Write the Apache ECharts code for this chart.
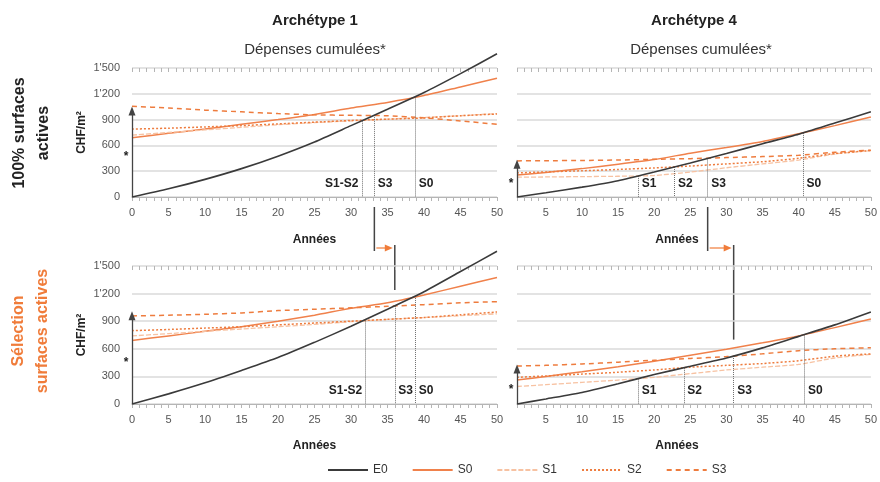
<!DOCTYPE html>
<html><head><meta charset="utf-8">
<script src="https://cdn.jsdelivr.net/npm/echarts@6/dist/echarts.min.js"></script>
<style>html,body{margin:0;padding:0;background:#fff}#c{width:880px;height:482px}</style>
</head><body><div id="c"></div>
<script>
const FONT = "'Liberation Sans', Arial, sans-serif";

// ---------- data ----------
const seriesNames = ['E0', 'S0', 'S1', 'S2', 'S3'];
const yearsLeft  = [0, 5, 10, 15, 20, 25, 30, 35, 40, 45, 50];
const yearsRight = [1, 5, 10, 15, 20, 25, 30, 35, 40, 45, 50];
const xLabelsLeft  = [0, 5, 10, 15, 20, 25, 30, 35, 40, 45, 50];
const xLabelsRight = [5, 10, 15, 20, 25, 30, 35, 40, 45, 50];

// Archétype 1 – 100% surfaces actives
const a1FullE0 = [0, 95, 205, 330, 475, 640, 830, 1020, 1215, 1435, 1665];
const a1FullS0 = [690, 740, 790, 845, 900, 960, 1035, 1100, 1180, 1280, 1380];
const a1FullS1 = [720, 750, 780, 810, 840, 865, 885, 905, 925, 945, 970];
const a1FullS2 = [790, 800, 815, 830, 850, 870, 890, 905, 920, 945, 965];
const a1FullS3 = [1055, 1035, 1010, 990, 970, 955, 950, 945, 920, 885, 845];
const a1FullPayNames = ['S1-S2', 'S3', 'S0'];
const a1FullPayYears = [31.5, 33.2, 38.8];
const a1FullArrowTop = 1000;

// Archétype 4 – 100% surfaces actives
const a4FullE0 = [0, 50, 115, 190, 290, 395, 505, 620, 730, 860, 990];
const a4FullS0 = [255, 285, 330, 380, 435, 510, 575, 645, 735, 830, 930];
const a4FullS1 = [230, 233, 237, 241, 250, 290, 340, 385, 430, 500, 540];
const a4FullS2 = [280, 292, 305, 320, 338, 360, 385, 410, 450, 505, 540];
const a4FullS3 = [420, 422, 425, 430, 438, 446, 458, 470, 485, 520, 545];
const a4FullPayNames = ['S1', 'S2', 'S3', 'S0'];
const a4FullPayYears = [17.8, 22.8, 27.4, 40.6];
const a4FullArrowTop = 380;

// Archétype 1 – Sélection surfaces actives
const a1SelE0 = [0, 110, 230, 365, 505, 670, 845, 1030, 1220, 1440, 1660];
const a1SelS0 = [690, 740, 790, 840, 900, 965, 1040, 1100, 1185, 1280, 1375];
const a1SelS1 = [740, 765, 790, 815, 840, 865, 895, 920, 940, 960, 980];
const a1SelS2 = [797, 810, 825, 840, 860, 880, 900, 920, 940, 970, 1000];
const a1SelS3 = [957, 965, 975, 990, 1015, 1030, 1045, 1062, 1080, 1100, 1112];
const a1SelPayNames = ['S1-S2', 'S3', 'S0'];
const a1SelPayYears = [32, 36, 38.8];
const a1SelArrowTop = 960;

// Archétype 4 – Sélection surfaces actives
const a4SelE0 = [0, 55, 125, 220, 320, 410, 500, 610, 735, 860, 1000];
const a4SelS0 = [260, 300, 350, 405, 465, 530, 595, 665, 740, 830, 924];
const a4SelS1 = [190, 210, 235, 260, 290, 330, 370, 400, 430, 500, 540];
const a4SelS2 = [290, 305, 325, 345, 370, 400, 420, 440, 470, 520, 545];
const a4SelS3 = [413, 420, 435, 455, 475, 495, 515, 545, 580, 600, 612];
const a4SelPayNames = ['S1', 'S2', 'S3', 'S0'];
const a4SelPayYears = [17.8, 24.1, 31, 40.8];
const a4SelArrowTop = 380;

// end value of the "shift" marker bar in the lower panels
const shiftBarEnd = [1240, 700];

// ---------- build ----------
const panels = [
  {years: yearsLeft,  vals: [a1FullE0, a1FullS0, a1FullS1, a1FullS2, a1FullS3], payNames: a1FullPayNames, payYears: a1FullPayYears, arrowTop: a1FullArrowTop, left: true},
  {years: yearsRight, vals: [a4FullE0, a4FullS0, a4FullS1, a4FullS2, a4FullS3], payNames: a4FullPayNames, payYears: a4FullPayYears, arrowTop: a4FullArrowTop, left: false},
  {years: yearsLeft,  vals: [a1SelE0, a1SelS0, a1SelS1, a1SelS2, a1SelS3], payNames: a1SelPayNames, payYears: a1SelPayYears, arrowTop: a1SelArrowTop, left: true},
  {years: yearsRight, vals: [a4SelE0, a4SelS0, a4SelS1, a4SelS2, a4SelS3], payNames: a4SelPayNames, payYears: a4SelPayYears, arrowTop: a4SelArrowTop, left: false}
];
const gridBoxes = [
  {left: 132, top: 68, width: 365, height: 129},
  {left: 517, top: 68, width: 356, height: 129},
  {left: 132, top: 266, width: 365, height: 138},
  {left: 517, top: 266, width: 356, height: 138}
];
const styles = {
  E0: {color: '#3a3a3a', width: 1.6, type: 'solid'},
  S0: {color: '#f0814b', width: 1.5, type: 'solid'},
  S1: {color: '#f7c2a2', width: 1.3, type: [5, 2]},
  S2: {color: '#ee7c3e', width: 1.5, type: [2, 2]},
  S3: {color: '#ee7c3e', width: 1.5, type: [5, 4]}
};

function interp(xs, ys, x) {
  for (let i = 0; i < xs.length - 1; i++) {
    if (x >= xs[i] && x <= xs[i + 1]) {
      return ys[i] + (ys[i + 1] - ys[i]) * (x - xs[i]) / (xs[i + 1] - xs[i]);
    }
  }
  return ys[ys.length - 1];
}
function fmtY(v) {
  return v >= 1000 ? Math.floor(v / 1000) + "'" + String(v % 1000).padStart(3, '0') : String(v);
}
const range = (a, b) => { const r = []; for (let i = a; i <= b; i++) r.push(i); return r; };

const xAxes = [], yAxes = [], series = [];
panels.forEach((p, g) => {
  const xmin = p.years[0];
  const common = {
    type: 'value', gridIndex: g, min: xmin, max: 50,
    splitLine: {show: false}
  };
  xAxes.push(Object.assign({}, common, {
    axisLine: {show: true, lineStyle: {color: '#b5b5b5', width: 1}},
    axisTick: {show: true, customValues: range(xmin, 50), length: 4, lineStyle: {color: '#b5b5b5'}},
    axisLabel: {customValues: p.left ? xLabelsLeft : xLabelsRight, fontSize: 11, color: '#555', fontFamily: FONT, margin: 10},
    name: 'Années', nameLocation: 'middle', nameGap: g < 2 ? 37 : 36,
    nameTextStyle: {fontSize: 12, fontWeight: 'bold', color: '#222', fontFamily: FONT, padding: p.left ? [0, 0, 0, 0] : [0, 34, 0, 0]}
  }));
  xAxes.push(Object.assign({}, common, {
    axisLine: {show: false},
    axisTick: {show: true, inside: true, customValues: range(xmin, 50), length: 4, lineStyle: {color: '#b5b5b5'}},
    axisLabel: {show: false}
  }));
  yAxes.push({
    type: 'value', gridIndex: g, min: 0, max: 1500, interval: 300,
    axisLine: {show: false}, axisTick: {show: false},
    axisLabel: {show: p.left, formatter: fmtY, fontSize: 11, color: '#555', fontFamily: FONT, margin: 12},
    splitLine: {show: true, lineStyle: {color: '#dadada', width: 1.5}},
    name: p.left ? 'CHF/m²' : '', nameLocation: 'middle', nameGap: 44, nameRotate: 90,
    nameTextStyle: {fontSize: 12, fontWeight: 'bold', color: '#222', fontFamily: FONT}
  });
  seriesNames.forEach((name, k) => {
    const st = styles[name];
    const s = {
      type: 'line', name, xAxisIndex: g * 2, yAxisIndex: g,
      data: p.years.map((y, i) => [y, p.vals[k][i]]),
      symbol: 'none', smooth: 0.2, animation: false, clip: false,
      lineStyle: {color: st.color, width: st.width, type: st.type},
      itemStyle: {color: st.color},
      emphasis: {disabled: true},
      z: name === 'E0' ? 5 : 3
    };
    if (name === 'E0') {
      const dotted = {type: 'dotted', color: '#6f6f6f', width: 1};
      const arrowLS = {type: 'solid', color: '#444', width: 1.3};
      s.markLine = {
        silent: true, animation: false, symbol: ['none', 'none'],
        label: {show: false}, emphasis: {disabled: true},
        data: p.payYears.map(yr => [
          {coord: [yr, interp(p.years, p.vals[0], yr)], lineStyle: dotted},
          {coord: [yr, 0], lineStyle: dotted}
        ]).concat([[
          {coord: [xmin, 0], lineStyle: arrowLS, symbol: 'none'},
          {coord: [xmin, p.arrowTop], lineStyle: arrowLS, symbol: 'triangle', symbolSize: [7, 9]}
        ]])
      };
      s.markPoint = {
        silent: true, animation: false, symbol: 'rect', symbolSize: 1,
        itemStyle: {color: 'rgba(0,0,0,0)'},
        data: p.payNames.map((n, i) => ({
          coord: [p.payYears[i], 0], value: n,
          label: {show: true, formatter: n, position: n.indexOf('-') >= 0 ? 'left' : 'right', distance: 3,
                  offset: [0, -13], fontSize: 12, fontWeight: 'bold', color: '#222', fontFamily: FONT}
        })).concat([{
          coord: [xmin, p.arrowTop / 2], value: '*',
          label: {show: true, formatter: '*', position: 'left', distance: 3, offset: [0, 3],
                  fontSize: 12, fontWeight: 'bold', color: '#222', fontFamily: FONT}
        }])
      };
    }
    series.push(s);
  });
});

const texts = [
  {type: 'text', x: 315, y: 21, style: {text: 'Archétype 1', fontSize: 15, fontWeight: 'bold', fontFamily: FONT, fill: '#222', align: 'center', verticalAlign: 'middle'}},
  {type: 'text', x: 694, y: 21, style: {text: 'Archétype 4', fontSize: 15, fontWeight: 'bold', fontFamily: FONT, fill: '#222', align: 'center', verticalAlign: 'middle'}},
  {type: 'text', x: 315, y: 50, style: {text: 'Dépenses cumulées*', fontSize: 15, fontFamily: FONT, fill: '#333', align: 'center', verticalAlign: 'middle'}},
  {type: 'text', x: 701, y: 50, style: {text: 'Dépenses cumulées*', fontSize: 15, fontFamily: FONT, fill: '#333', align: 'center', verticalAlign: 'middle'}},
  {type: 'text', x: 32, y: 133, rotation: Math.PI / 2, style: {text: '100% surfaces\nactives', fontSize: 16, fontWeight: 'bold', fontFamily: FONT, fill: '#222', align: 'center', verticalAlign: 'middle', lineHeight: 24}},
  {type: 'text', x: 31, y: 331, rotation: Math.PI / 2, style: {text: 'Sélection\nsurfaces actives', fontSize: 16, fontWeight: 'bold', fontFamily: FONT, fill: '#f07c3a', align: 'center', verticalAlign: 'middle', lineHeight: 24}}
];

const chart = echarts.init(document.getElementById('c'), null, {renderer: 'canvas'});
const option = {
  animation: false,
  backgroundColor: '#fff',
  grid: gridBoxes.map(b => Object.assign({containLabel: false}, b)),
  xAxis: xAxes,
  yAxis: yAxes,
  legend: {
    data: seriesNames, left: 322, top: 459, itemWidth: 40, itemHeight: 10, itemGap: 24,
    itemStyle: {opacity: 0},
    textStyle: {fontSize: 12, color: '#333', fontFamily: FONT}, selectedMode: false
  },
  graphic: texts,
  series
};
chart.setOption(option);

// shift annotation (S3 payback moving from upper to lower panel)
const annots = [];
[0, 1].forEach(c => {
  const top = panels[c], bot = panels[c + 2];
  const yrTop = top.payYears[top.payNames.indexOf('S3')];
  const yrBot = bot.payYears[bot.payNames.indexOf('S3')];
  const a = chart.convertToPixel({xAxisIndex: 2 * c, yAxisIndex: c}, [yrTop, 0]);
  const b = chart.convertToPixel({xAxisIndex: 2 * (c + 2), yAxisIndex: c + 2}, [yrBot, shiftBarEnd[c]]);
  const xa = a[0], y0 = a[1], xb = b[0];
  annots.push(
    {type: 'line', shape: {x1: xa, y1: y0 + 10, x2: xa, y2: y0 + 54}, style: {stroke: '#444', lineWidth: 1.5}},
    {type: 'line', shape: {x1: xa + 2, y1: y0 + 51, x2: xb - 8, y2: y0 + 51}, style: {stroke: '#f07c3a', lineWidth: 1.2}},
    {type: 'polygon', shape: {points: [[xb - 10, y0 + 47.5], [xb - 2, y0 + 51], [xb - 10, y0 + 54.5]]}, style: {fill: '#f07c3a'}},
    {type: 'line', shape: {x1: xb, y1: y0 + 48, x2: xb, y2: b[1]}, style: {stroke: '#444', lineWidth: 1.5}}
  );
});
chart.setOption({graphic: texts.concat(annots)});
</script></body></html>
